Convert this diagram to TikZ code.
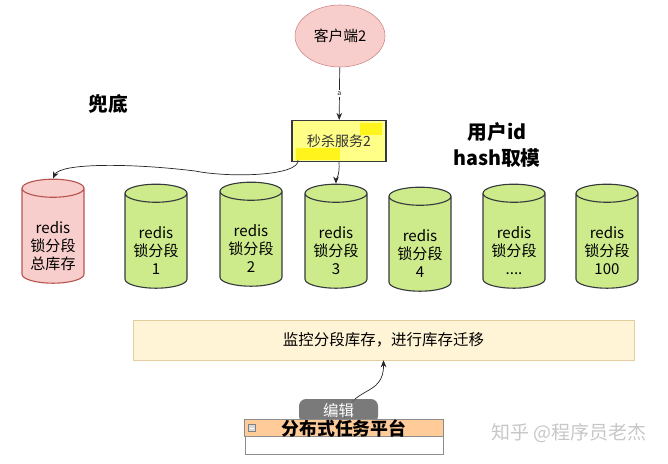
\documentclass[tikz,border=0pt]{standalone}
\usepackage{fontspec}
\setmainfont{Noto Sans CJK SC}
\usepackage{tikz}
\usetikzlibrary{arrows.meta, positioning, shapes.geometric, calc}
\definecolor{dbgreen}{HTML}{CDEB8B}
\definecolor{dbpink}{HTML}{F8CECC}
\definecolor{pinkline}{HTML}{B85450}
\definecolor{darkline}{HTML}{36393D}
\definecolor{svcyellow}{HTML}{FFFF88}
\definecolor{monfill}{HTML}{FFF4D6}
\definecolor{monline}{HTML}{E3CF9E}
\definecolor{laneorange}{HTML}{FFCC99}
\newcommand{\dbtext}[1]{\raisebox{-11pt}[0pt][0pt]{\begin{tabular}{@{}c@{}}#1\end{tabular}}}

\begin{document}
\begin{tikzpicture}[
    x=0.025cm, y=-0.025cm,
    db/.style={cylinder, shape border rotate=90, aspect=0.4, draw=darkline, line width=0.8pt,
        fill=dbgreen, minimum width=62*0.025cm, minimum height=104*0.025cm, inner sep=0pt,
        font=\fontsize{10.7}{12.8}\selectfont},
    link/.style={-{Stealth[length=5pt, width=4pt]}, black!85, line width=0.5pt},
    tag/.style={font=\fontsize{14}{19}\selectfont\bfseries, align=center},
]
    \useasboundingbox (0, 0) rectangle (668, 464);

    % client and service
    \node[ellipse, draw=pinkline!70, fill=dbpink, minimum width=90*0.025cm, minimum height=62*0.025cm,
        font=\fontsize{10.5}{12}\selectfont] (client) at (340, 36) {客户端2};
    \node[draw=darkline, line width=0.8pt, fill=svcyellow, minimum width=94*0.025cm,
        minimum height=41*0.025cm, inner sep=0pt] (seckill) at (339, 141) {};
    \fill[yellow, opacity=0.8] (360, 123) rectangle (382, 135);
    \fill[yellow, opacity=0.8] (296, 148) rectangle (340, 160);
    \node[font=\fontsize{10}{12}\selectfont, text=black!80] at (seckill) {秒杀服务2};
    \draw[link] (client) -- node[font=\fontsize{5}{6}\selectfont, fill=white, inner sep=1pt] {a} (seckill);

    \node[tag] (fallback) at (108, 104) {兜底};
    \node[tag] (hashmod) at (497, 145) {用户id\\hash取模};

    % redis segments
    \node[db, fill=dbpink, draw=pinkline] (total) at (53, 236) {\dbtext{redis\\锁分段\\总库存}};
    \node[db] (seg1) at (156, 241) {\dbtext{redis\\锁分段\\1}};
    \node[db] (seg2) at (251, 239) {\dbtext{redis\\锁分段\\2}};
    \node[db] (seg3) at (336, 241) {\dbtext{redis\\锁分段\\3}};
    \node[db] (seg4) at (420, 244) {\dbtext{redis\\锁分段\\4}};
    \node[db] (segdots) at (514, 241) {\dbtext{redis\\锁分段\\....}};
    \node[db] (seg100) at (607, 241) {\dbtext{redis\\锁分段\\100}};

    \draw[link] (298, 160) .. controls (300, 176) and (230, 178) .. (195, 171)
        .. controls (130, 163) and (60, 163) .. (total.north);
    \draw[link] (seckill.south) .. controls (340, 175) and (336, 180) .. (seg3.north);

    % migration
    \node[draw=monline, fill=monfill, minimum width=501*0.025cm, minimum height=40*0.025cm,
        font=\fontsize{11}{13}\selectfont] (monitor) at (383.5, 340) {监控分段库存，进行库存迁移};

    % task platform
    \node[draw=black!45, fill=white, minimum width=198*0.025cm, minimum height=34*0.025cm,
        inner sep=0pt] (task) at (344, 437) {};
    \draw[link] (task.north) .. controls (350, 385) and (384, 398) .. (monitor.south);
    \node[fill=black!58, opacity=0.9, rounded corners=5pt, minimum width=79*0.025cm,
        minimum height=24*0.025cm, text=white, text opacity=1, font=\fontsize{11}{12}\selectfont]
        (edit) at (338.5, 411) {编辑};
    \filldraw[draw=black!45, fill=laneorange] (task.north west) rectangle ($(task.north east)+(0, 17)$);
    \node[draw=black!50, fill=black!15, minimum size=5pt, inner sep=0pt] (fold) at (252, 428) {};
    \draw[white, line width=0.6pt] ($(fold.west)+(1pt,0)$) -- ($(fold.east)+(-1pt,0)$);
    \node[font=\fontsize{12.7}{14}\selectfont\bfseries] (lane) at (344, 428.5) {分布式任务平台};

    % watermark
    \node[text=black!22, font=\fontsize{13.5}{15}\selectfont] (mark) at (569, 433) {知乎 @程序员老杰};
\end{tikzpicture}
\end{document}
